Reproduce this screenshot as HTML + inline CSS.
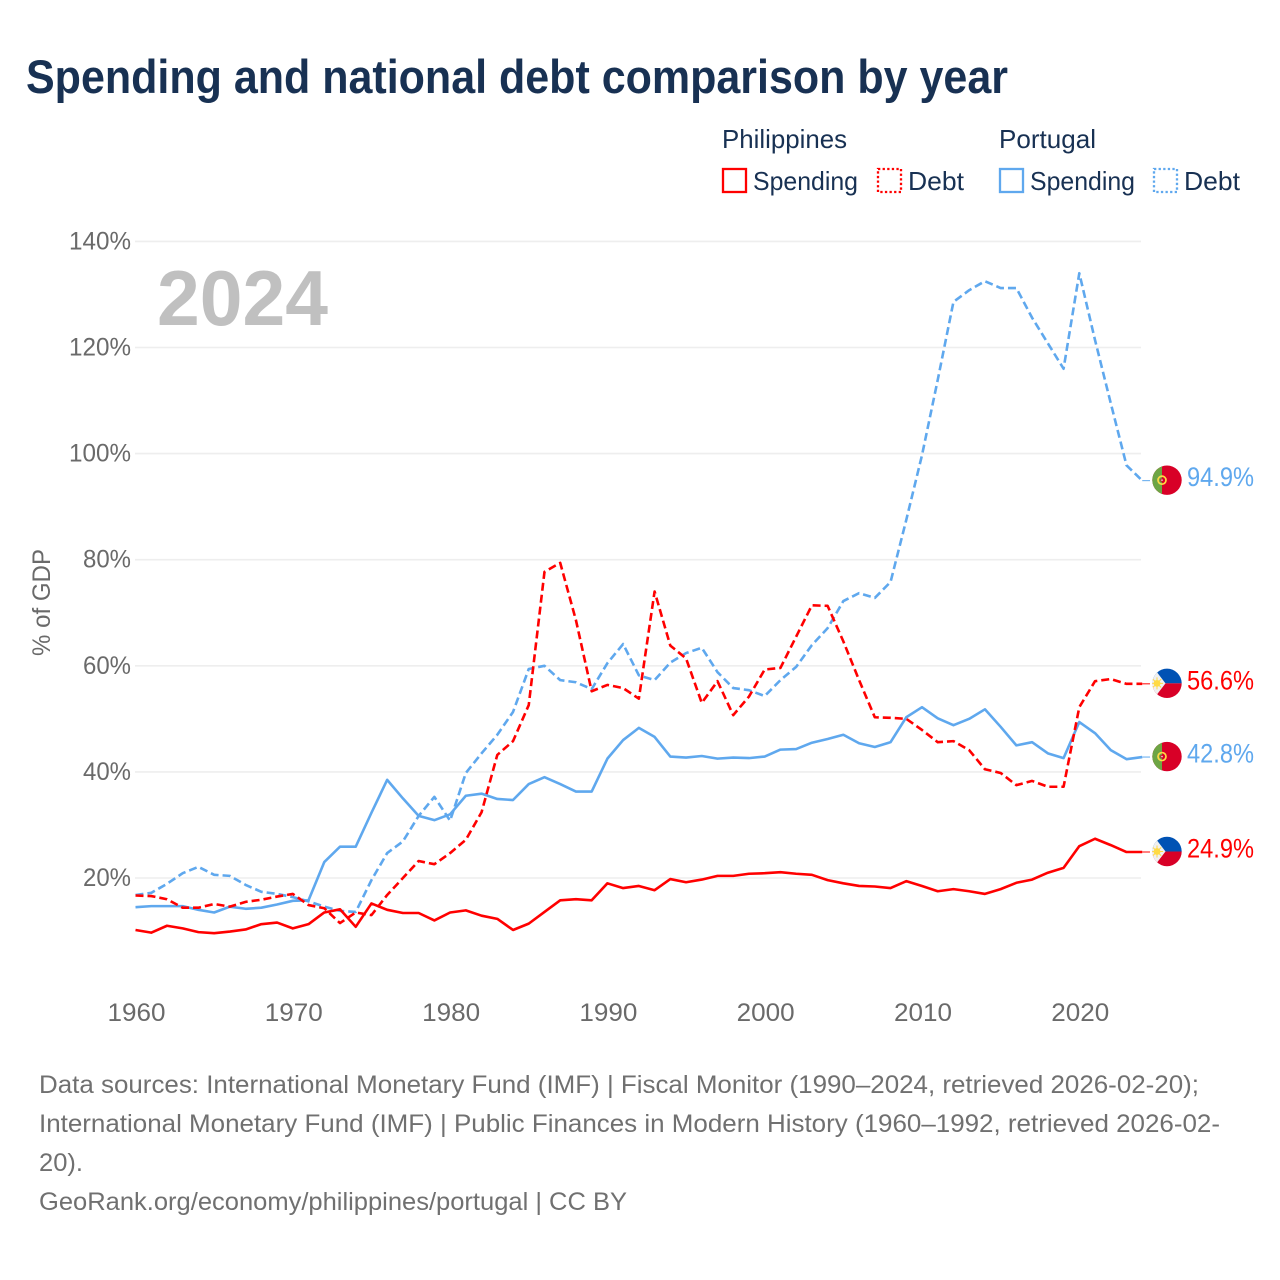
<!DOCTYPE html>
<html lang="en">
<head>
<meta charset="utf-8">
<title>Spending and national debt comparison by year</title>
<style>
html,body{margin:0;padding:0;background:#fff;}
#chart{display:block;width:1280px;height:1280px;font-family:"Liberation Sans",sans-serif;}
</style>
</head>
<body>
<svg id="chart" xmlns="http://www.w3.org/2000/svg" width="1280" height="1280" viewBox="0 0 1280 1280">
  <defs>
    <clipPath id="flag-clip"><circle cx="0" cy="0" r="14.7"/></clipPath>
    <g id="flag-pt" clip-path="url(#flag-clip)">
      <rect x="-15" y="-15" width="30" height="30" fill="#d80027"/>
      <rect x="-15" y="-15" width="10" height="30" fill="#6da544"/>
      <circle cx="-5" cy="0" r="4" fill="none" stroke="#ffda44" stroke-width="1.7"/>
      <rect x="-6.5" y="-1.5" width="3" height="3" fill="#d80027"/>
      <rect x="-5.7" y="-0.7" width="1.4" height="1.4" fill="#f0f0f0"/>
    </g>
    <g id="flag-ph" clip-path="url(#flag-clip)">
      <rect x="-15" y="-15" width="30" height="15" fill="#0052b4"/>
      <rect x="-15" y="0" width="30" height="15" fill="#d80027"/>
      <polygon points="-15,-15 -13,-15 -1.5,0 -13,15 -15,15" fill="#f0f0f0"/>
      <circle cx="-10" cy="0" r="3.4" fill="#ffda44"/>
      <path d="M-10,-6V6M-16,0H-4M-14.2,-4.2L-5.8,4.2M-14.2,4.2L-5.8,-4.2" stroke="#ffda44" stroke-width="1"/>
    </g>
  </defs>

  <text x="26" y="93" font-size="47" font-weight="700" fill="#183153" textLength="982" lengthAdjust="spacingAndGlyphs">Spending and national debt comparison by year</text>

  <g fill="#183153" font-size="26">
    <text x="722" y="148" textLength="125" lengthAdjust="spacingAndGlyphs">Philippines</text>
    <text x="999" y="148" textLength="97" lengthAdjust="spacingAndGlyphs">Portugal</text>

    <rect x="723" y="169" width="23" height="23" fill="none" stroke="#ff0000" stroke-width="2.3"/>
    <text x="753" y="190" textLength="105" lengthAdjust="spacingAndGlyphs">Spending</text>
    <rect x="878" y="169" width="23" height="23" fill="none" stroke="#ff0000" stroke-width="2.3" stroke-dasharray="2.3 2.3"/>
    <text x="908" y="190" textLength="56" lengthAdjust="spacingAndGlyphs">Debt</text>

    <rect x="1000" y="169" width="23" height="23" fill="none" stroke="#5fa8ee" stroke-width="2.3"/>
    <text x="1030" y="190" textLength="105" lengthAdjust="spacingAndGlyphs">Spending</text>
    <rect x="1154" y="169" width="23" height="23" fill="none" stroke="#5fa8ee" stroke-width="2.3" stroke-dasharray="2.3 2.3"/>
    <text x="1184" y="190" textLength="56" lengthAdjust="spacingAndGlyphs">Debt</text>
  </g>

  <g id="grid"></g>
  <g id="y-axis"></g>
  <g id="x-axis"></g>

  <text x="157" y="325" font-size="78" font-weight="700" fill="#c0c0c0" textLength="171" lengthAdjust="spacingAndGlyphs">2024</text>
  <text transform="translate(50,656) rotate(-90)" font-size="25" fill="#6a6a6a" textLength="107" lengthAdjust="spacingAndGlyphs">% of GDP</text>

  <g id="series"></g>
  <g id="endpoints"></g>

  <g font-size="25" fill="#707070">
    <text x="39" y="1093" textLength="1160" lengthAdjust="spacingAndGlyphs">Data sources: International Monetary Fund (IMF) | Fiscal Monitor (1990–2024, retrieved 2026-02-20);</text>
    <text x="39" y="1132" textLength="1181" lengthAdjust="spacingAndGlyphs">International Monetary Fund (IMF) | Public Finances in Modern History (1960–1992, retrieved 2026-02-</text>
    <text x="39" y="1171" textLength="44" lengthAdjust="spacingAndGlyphs">20).</text>
    <text x="39" y="1210" textLength="588" lengthAdjust="spacingAndGlyphs">GeoRank.org/economy/philippines/portugal | CC BY</text>
  </g>
</svg>

<script>
const startYear = 1960;
const xTickYears = [1960, 1970, 1980, 1990, 2000, 2010, 2020];
const yTickValues = [20, 40, 60, 80, 100, 120, 140];

const portugalDebt = [16.8,17.2,18.9,20.9,22.1,20.6,20.4,18.7,17.4,17.0,16.4,15.6,14.6,13.8,13.6,19.6,24.7,26.9,31.7,35.3,30.8,39.8,43.5,47.0,51.3,59.4,60.0,57.3,56.9,55.6,60.5,64.1,58.2,57.3,60.6,62.4,63.4,58.8,55.8,55.4,54.3,57.3,59.8,63.9,67.1,72.2,73.7,72.8,75.8,87.5,99.7,113.9,128.6,130.8,132.5,131.2,131.2,125.6,120.8,116.0,134.0,121.4,109.5,97.8,94.9];
const philippinesDebt = [16.7,16.6,16.0,14.4,14.4,15.1,14.6,15.5,15.9,16.5,17.0,14.9,14.3,11.5,13.5,13.0,16.8,20.0,23.2,22.6,24.7,27.2,32.4,43.2,45.8,52.6,77.7,79.4,68.6,55.2,56.4,55.8,53.8,74.0,63.8,61.4,53.0,57.1,50.7,54.2,59.3,59.6,65.5,71.4,71.3,64.6,57.3,50.3,50.2,50.0,47.9,45.6,45.8,44.1,40.5,39.8,37.5,38.3,37.2,37.2,52.2,57.1,57.5,56.6,56.6];
const portugalSpending = [14.5,14.7,14.7,14.7,14.0,13.5,14.6,14.2,14.4,15.0,15.7,15.8,23.0,25.9,25.9,32.3,38.5,35.0,31.7,30.9,32.0,35.5,35.9,34.9,34.7,37.7,39.0,37.7,36.3,36.3,42.5,46.0,48.3,46.6,42.9,42.7,43.0,42.5,42.7,42.6,42.9,44.2,44.3,45.5,46.2,47.0,45.4,44.7,45.6,50.3,52.2,50.1,48.8,50.0,51.8,48.5,45.0,45.6,43.5,42.6,49.4,47.3,44.1,42.4,42.8];
const philippinesSpending = [10.2,9.7,11.0,10.5,9.8,9.6,9.9,10.3,11.3,11.6,10.5,11.3,13.5,14.1,10.8,15.2,14.0,13.4,13.4,12.0,13.5,13.9,12.9,12.3,10.2,11.4,13.6,15.8,16.0,15.8,19.0,18.1,18.5,17.7,19.8,19.2,19.7,20.4,20.4,20.8,20.9,21.1,20.8,20.6,19.6,19.0,18.5,18.4,18.1,19.4,18.5,17.5,17.9,17.5,17.0,17.9,19.1,19.7,21.0,21.9,26.0,27.4,26.2,24.9,24.9];

const NS = 'http://www.w3.org/2000/svg';
const RED = '#ff0000';
const BLUE = '#5fa8ee';

function xScale(year) { return 135.5 + (year - 1960) * 15.73; }
function yScale(value) { return 984.1 - value * 5.305; }

function makeEl(tag, attrs, parent) {
  const el = document.createElementNS(NS, tag);
  Object.keys(attrs).forEach(function (k) { el.setAttribute(k, attrs[k]); });
  parent.appendChild(el);
  return el;
}

const gridGroup = document.getElementById('grid');
const yAxisGroup = document.getElementById('y-axis');
const xAxisGroup = document.getElementById('x-axis');
const seriesGroup = document.getElementById('series');
const endGroup = document.getElementById('endpoints');

yTickValues.forEach(function (v) {
  const y = yScale(v);
  const line = makeEl('line', { x1: 135, x2: 1141, y1: y, y2: y, stroke: '#eeeeee', 'stroke-width': 1.6 }, gridGroup);
  
  
  const label = String(v) + '%';
  const tick = makeEl('text', { x: 131, y: y + 8, 'text-anchor': 'end', 'font-size': 25, fill: '#6a6a6a', textLength: label.length === 4 ? 62 : 48, lengthAdjust: 'spacingAndGlyphs' }, yAxisGroup);
  tick.textContent = label;
  
  
});

xTickYears.forEach(function (yr) {
  const tick = makeEl('text', { x: xScale(yr) + 1, y: 1021, 'text-anchor': 'middle', 'font-size': 25, fill: '#6a6a6a', textLength: 58, lengthAdjust: 'spacingAndGlyphs' }, xAxisGroup);
  tick.textContent = String(yr);
  
  
});

function drawSeries(values, color, dashed, name) {
  const pts = values.map(function (v, i) {
    return xScale(startYear + i).toFixed(2) + ',' + yScale(v).toFixed(2);
  }).join(' ');
  const attrs = { points: pts, fill: 'none', stroke: color, 'stroke-width': 2.6, 'stroke-linejoin': 'round' };
  if (dashed) { attrs['stroke-dasharray'] = '8 4'; }
  const line = makeEl('polyline', attrs, seriesGroup);
  
  
}

drawSeries(portugalDebt, BLUE, true, 'line-portugal-debt');
drawSeries(portugalSpending, BLUE, false, 'line-portugal-spending');
drawSeries(philippinesDebt, RED, true, 'line-philippines-debt');
drawSeries(philippinesSpending, RED, false, 'line-philippines-spending');

function drawEnd(values, color, flagId, name) {
  const last = values[values.length - 1];
  const lastYear = startYear + values.length - 1;
  const y = yScale(last);
  const conn = makeEl('line', { x1: xScale(lastYear), x2: 1150, y1: y, y2: y, stroke: color, 'stroke-width': 1 }, endGroup);
  
  
  const flag = makeEl('use', { href: '#' + flagId, transform: 'translate(1167,' + (y - 0.5).toFixed(2) + ')' }, endGroup);
  
  
  const label = makeEl('text', { x: 1187, y: y + 5.5, 'font-size': 27, fill: color, textLength: 67, lengthAdjust: 'spacingAndGlyphs' }, endGroup);
  label.textContent = last.toFixed(1) + '%';
  
  
}

drawEnd(portugalDebt, BLUE, 'flag-pt', 'portugal-debt');
drawEnd(philippinesDebt, RED, 'flag-ph', 'philippines-debt');
drawEnd(portugalSpending, BLUE, 'flag-pt', 'portugal-spending');
drawEnd(philippinesSpending, RED, 'flag-ph', 'philippines-spending');
</script>
</body>
</html>
